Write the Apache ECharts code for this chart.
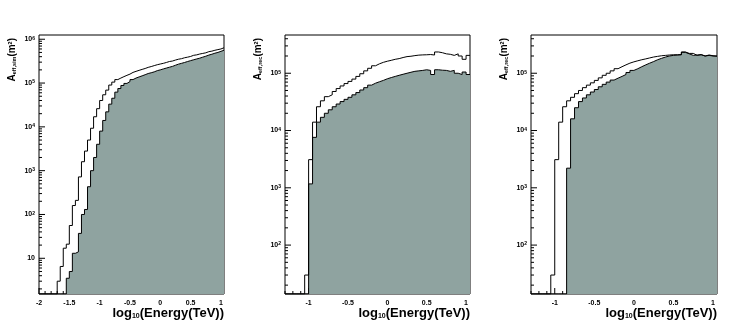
<!DOCTYPE html>
<html><head><meta charset="utf-8">
<script src="https://cdn.jsdelivr.net/npm/echarts@6/dist/echarts.min.js"></script>
<style>html,body{margin:0;padding:0;background:#fff}#c{width:747px;height:330px}</style>
</head><body><div id="c"></div><script>
// ---- data (bin lower edges start at panel start, width 0.05 in log10(E/TeV)) ----
const binWidth = 0.05;
const p1Start = -2.0;
const p23Start = -1.3;
const xMax = 1.05;

// Panel 1: A_eff,sim  (0 = empty bin)
const p1Outer = [0,0,0,0,0,0,3,6.5,17,21,56,160,210,720,1600,2800,5000,9300,17000,26000,
  40000,54000,69000,90000,105000,120000,130000,140000,150000,160000,175000,185000,195000,205000,215000,
  228000,238000,250000,262000,272000,282000,295000,310000,318000,335000,350000,360000,378000,390000,405000,
  430000,440000,460000,475000,490000,520000,535000,560000,580000,600000,640000];
const p1Filled = [0,0,0,0,0,0,0,0,0,3.5,5,13,14,37,100,130,430,1000,2000,4000,
  8000,14000,22000,33000,45000,62000,75000,88000,98000,108000,120000,130000,138000,146000,155000,
  165000,172000,180000,192000,200000,210000,220000,230000,240000,255000,270000,282000,295000,310000,325000,
  340000,355000,370000,390000,410000,435000,455000,480000,500000,530000,560000];

// Panel 2: A_eff,rec
const p2Outer = [0,0,0,0,0,30,3100,14000,26000,33000,39000,42000,48000,54000,60000,66000,72000,79000,
  88000,98000,110000,122000,135000,146000,155000,162000,168000,175000,180000,188000,195000,198000,203000,
  207000,209000,210000,212000,208000,235000,228000,218000,214000,205000,218000,200000,175000,205000];
const p2Filled = [0,0,0,0,0,0,1170,7600,14000,17000,20000,23000,26000,29000,32000,35000,38000,42000,
  46000,51000,56000,62000,67000,71000,75000,80000,84000,88000,92000,96000,100000,104000,108000,
  110000,112000,115000,112000,95000,115000,113000,112000,108000,112000,100000,95000,105000,95000];

// Panel 3: A_eff,rec
const p3Outer = [0,0,0,0,0,30,3100,14000,26000,33000,38000,44000,50000,56000,62000,68000,75000,83000,
  92000,100000,110000,120000,130000,140000,150000,158000,165000,172000,178000,185000,192000,197000,202000,
  205000,208000,210000,210000,212000,235000,222000,222000,205000,212000,200000,208000,202000,200000];
const p3Filled = [0,0,0,0,0,0,0,0,0,2200,16000,25000,32000,37000,42000,47000,52000,58000,
  64000,70000,76000,82000,88000,95000,103000,112000,120000,130000,140000,150000,160000,172000,182000,
  192000,200000,205000,208000,210000,232000,218000,205000,208000,210000,200000,205000,200000,198000];

const yTitles = [
  '{a|A}{s|eff,sim}{a|(m}{p|2}{a|)}',
  '{a|A}{s|eff,rec}{a|(m}{p|2}{a|)}',
  '{a|A}{s|eff,rec}{a|(m}{p|2}{a|)}'
];
const xTitle = '{a|log}{s|10}{a|(Energy(TeV))}';

// ---- layout ----
const FONT = 'Liberation Sans, Arial, Helvetica, sans-serif';
const FILL = '#8fa3a0';
const panels = [
  {start:p1Start, outer:p1Outer, filled:p1Filled, xmin:-2.0, ymin:1.53, ymax:1.25e6, left:39, width:185, interval:0.5},
  {start:p23Start, outer:p2Outer, filled:p2Filled, xmin:-1.3, ymin:14, ymax:4.65e5, left:285, width:185},
  {start:p23Start, outer:p3Outer, filled:p3Filled, xmin:-1.3, ymin:14, ymax:4.65e5, left:531, width:186}
];
const TOP = 35, HEIGHT = 259;

function hist(start, vals, ymin){
  const pts = vals.map((v,i)=>[+(start+i*binWidth).toFixed(4), v>0 ? v : ymin]);
  const last = vals[vals.length-1];
  pts.push([+(start+vals.length*binWidth).toFixed(4), last>0?last:ymin]);
  return pts;
}
function tickData(p){
  const d = [];
  const e0 = Math.floor(Math.log10(p.ymin)), e1 = Math.ceil(Math.log10(p.ymax));
  for (let e=e0; e<=e1; e++) for (let m=1; m<=9; m++){
    const v = m*Math.pow(10,e);
    if (v>=p.ymin && v<=p.ymax) d.push([p.xmin, v, m===1?6:3, 0]);
  }
  for (let k=Math.ceil(p.xmin*10-1e-9); k<=Math.floor(xMax*10+1e-9); k++){
    d.push([k/10, p.ymin, k%5===0?6:3, 1]);
  }
  return d;
}

const grid=[], xAxis=[], yAxis=[], series=[], graphic=[];
const richY = {
  a:{fontSize:10, fontWeight:'bold', fontFamily:FONT, color:'#000'},
  s:{fontSize:5.5, fontWeight:'bold', fontFamily:FONT, color:'#000', verticalAlign:'bottom'},
  p:{fontSize:5.5, fontWeight:'bold', fontFamily:FONT, color:'#000', verticalAlign:'top'}
};
const richX = {
  a:{fontSize:13, fontWeight:'bold', fontFamily:FONT, color:'#000'},
  s:{fontSize:7, fontWeight:'bold', fontFamily:FONT, color:'#000', verticalAlign:'bottom'}
};
panels.forEach((p,k)=>{
  grid.push({left:p.left, top:TOP, width:p.width, height:HEIGHT, show:true, borderColor:'#000', borderWidth:1, backgroundColor:'#fff'});
  const xa = {type:'value', gridIndex:k, min:p.xmin, max:xMax,
    axisLine:{show:false}, axisTick:{show:false}, splitLine:{show:false},
    axisLabel:{show:true, margin:6, fontSize:7, fontWeight:'bold', fontFamily:FONT, color:'#000',
      showMinLabel: k===0, showMaxLabel:false}};
  if (p.interval) xa.interval = p.interval; else xa.splitNumber = 5;
  xAxis.push(xa);
  yAxis.push({type:'log', logBase:10, gridIndex:k, min:p.ymin, max:p.ymax,
    axisLine:{show:false}, axisTick:{show:false}, splitLine:{show:false},
    axisLabel:{show:true, margin:4, showMinLabel:false, showMaxLabel:false,
      formatter:v=>{const e=Math.round(Math.log10(v)); return e===1?'{n|10}':'{n|10}{s|'+e+'}';},
      rich:{n:{fontSize:7, fontWeight:'bold', fontFamily:FONT, color:'#000'},
            s:{fontSize:5, fontWeight:'bold', fontFamily:FONT, color:'#000', verticalAlign:'top'}}}});
  series.push({type:'custom', xAxisIndex:k, yAxisIndex:k, z:1, silent:true,
    data:tickData(p), encode:{x:0,y:1},
    renderItem:(params, api)=>{
      const c = api.coord([api.value(0), api.value(1)]);
      const len = api.value(2), dir = api.value(3);
      const shape = dir===0 ? {x1:c[0], y1:c[1], x2:c[0]+len, y2:c[1]} : {x1:c[0], y1:c[1], x2:c[0], y2:c[1]-len};
      return {type:'line', shape, style:{stroke:'#000', lineWidth:1}};
    }});
  series.push({type:'line', xAxisIndex:k, yAxisIndex:k, z:2, data:hist(p.start,p.filled,p.ymin),
    step:'end', symbol:'none', lineStyle:{color:'#000', width:1}, areaStyle:{color:FILL, opacity:1, origin:'start'}});
  series.push({type:'line', xAxisIndex:k, yAxisIndex:k, z:3, data:hist(p.start,p.outer,p.ymin),
    step:'end', symbol:'none', lineStyle:{color:'#000', width:1}});
  graphic.push({type:'text', x:p.left-27, y:TOP+3, rotation:Math.PI/2,
    style:{text:yTitles[k], rich:richY, align:'right', verticalAlign:'middle'}});
  graphic.push({type:'text', x:p.left+p.width, y:313,
    style:{text:xTitle, rich:richX, align:'right', verticalAlign:'middle'}});
});

const chart = echarts.init(document.getElementById('c'), null, {renderer:'canvas'});
chart.setOption({animation:false, backgroundColor:'#fff', grid, xAxis, yAxis, series, graphic});
</script></body></html>
